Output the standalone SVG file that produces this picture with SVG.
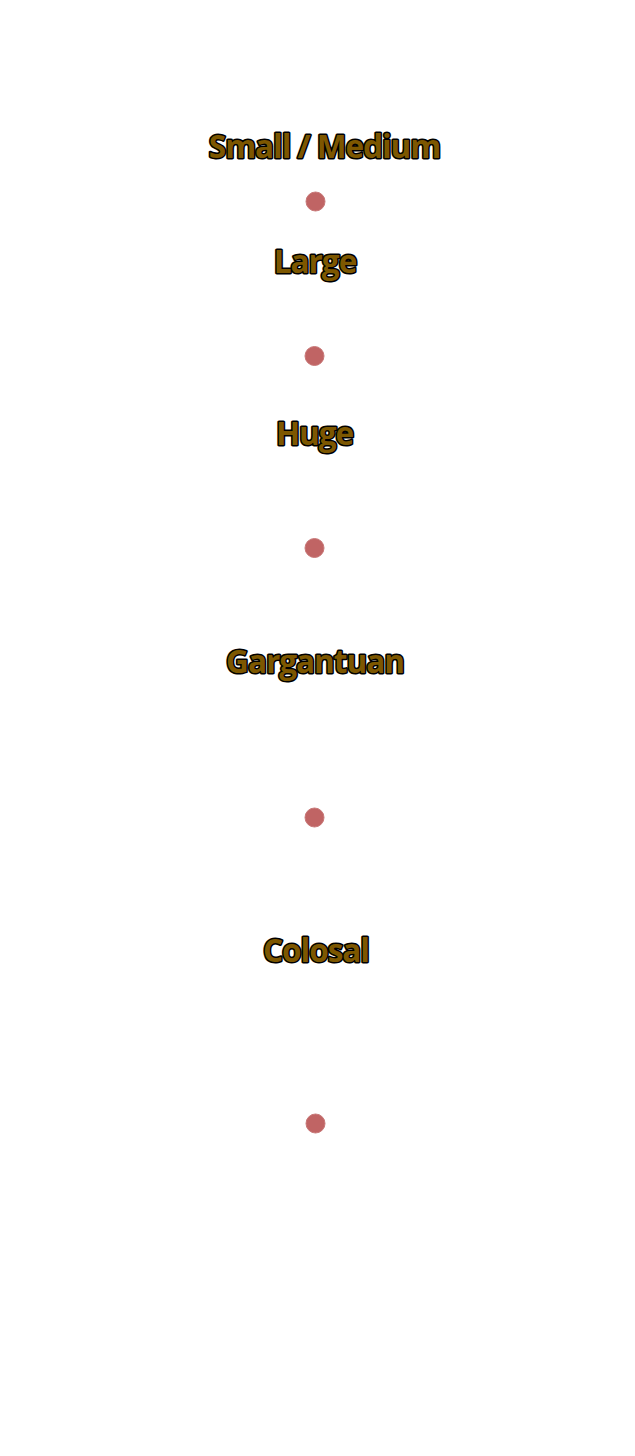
<svg xmlns="http://www.w3.org/2000/svg" width="635" height="1456" viewBox="0 0 635 1456">
<style>
.lbl{font-family:"Open Sans","Noto Sans",sans-serif;font-weight:bold;font-size:31.5px;letter-spacing:-1px;fill:#7d5700;stroke:#000;stroke-width:3px;paint-order:stroke;stroke-linejoin:round;text-anchor:middle}
.dot{fill:#c06464;stroke:#c87878;stroke-width:1}
</style>
<rect width="635" height="1456" fill="#fff"/>
<g id="small-medium"><text class="lbl" x="324.5" y="158">Small / Medium</text><circle class="dot" cx="315.5" cy="201.5" r="9.5"/></g>
<g id="large"><text class="lbl" x="315" y="273">Large</text><circle class="dot" cx="314.5" cy="356" r="9.5"/></g>
<g id="huge"><text class="lbl" x="314.5" y="445">Huge</text><circle class="dot" cx="314.5" cy="548" r="9.5"/></g>
<g id="gargantuan"><text class="lbl" x="315" y="673">Gargantuan</text><circle class="dot" cx="314.5" cy="817.5" r="9.5"/></g>
<g id="colosal"><text class="lbl" x="316" y="962">Colosal</text><circle class="dot" cx="315.5" cy="1123.5" r="9.5"/></g>
<g id="connectors"></g>
</svg>
